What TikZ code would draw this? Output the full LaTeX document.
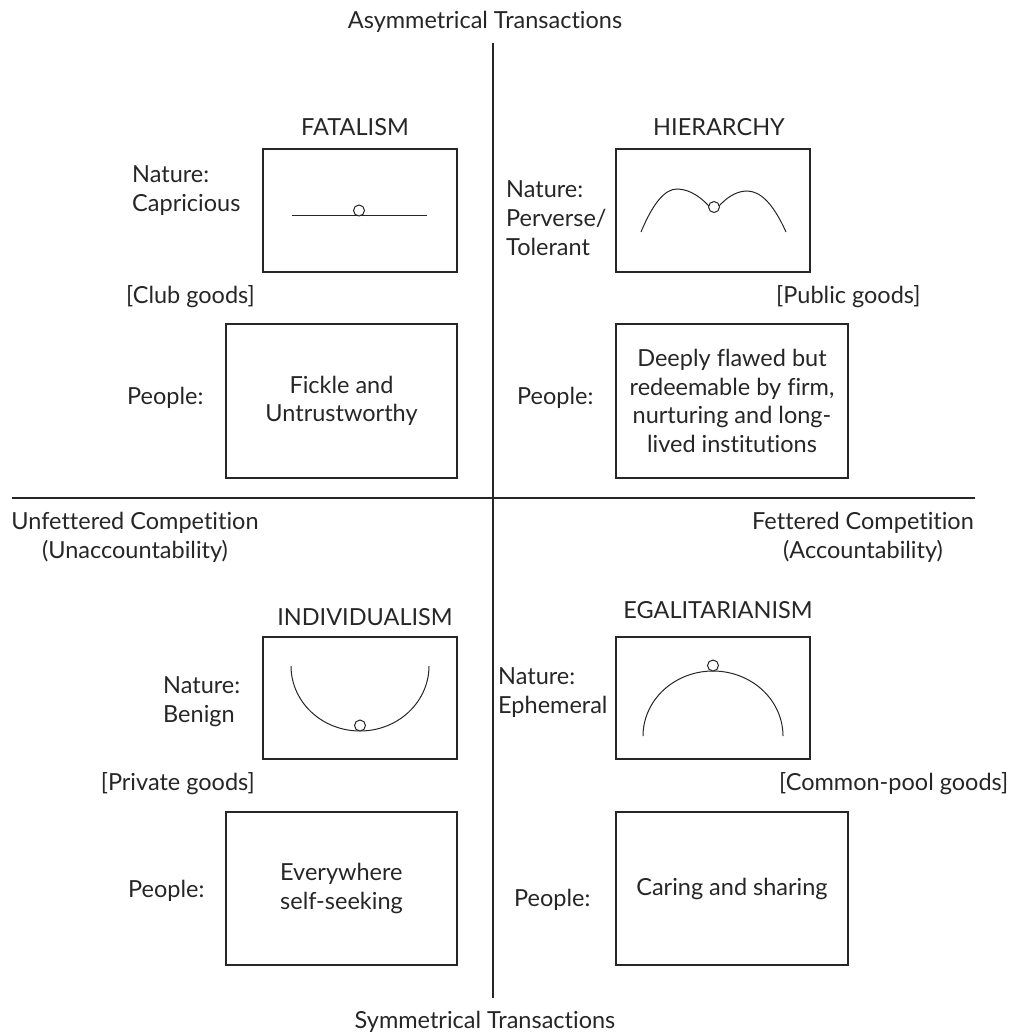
\documentclass[tikz,border=0pt]{standalone}
\usepackage{fontspec}
\setmainfont{Lato}[Ligatures=NoCommon]
\begin{document}
\begin{tikzpicture}[x=1pt,y=-1pt,
  axis/.style={draw=black!85, line width=1.1pt},
  curve/.style={draw=black!85, line width=1pt},
  nbox/.style={draw=black!85, line width=1.1pt, inner sep=0pt, minimum width=194pt, minimum height=123pt},
  pbox/.style={draw=black!85, line width=1.1pt, inner sep=0pt, minimum width=231pt, minimum height=154pt, align=center, text=black!85, font=\fontsize{23.5}{28.5}\selectfont},
  txt/.style={inner sep=0pt, text=black!85, font=\fontsize{23.5}{29}\selectfont},
  ball/.style={draw=black!85, line width=1pt, fill=white, circle, inner sep=0pt, minimum size=11pt}
]
\useasboundingbox (0,0) rectangle (1013,1032);

% axes
\coordinate (vt) at (493,43);
\coordinate (vb) at (493,998);
\coordinate (hl) at (12,498);
\coordinate (hr) at (975,498);
\draw[axis] (vt) -- (vb);
\draw[axis] (hl) -- (hr);

\node[txt] (asym) at (485,22) {Asymmetrical Transactions};
\node[txt] (sym) at (485,1022) {Symmetrical Transactions};
\node[txt, align=center] (unf) at (135,537.5) {Unfettered Competition\\(Unaccountability)};
\node[txt, align=center] (fet) at (863,537.5) {Fettered Competition\\(Accountability)};

% FATALISM
\node[txt] (fatT) at (355,127) {FATALISM};
\node[nbox] (fatN) at (360,210.5) {};
\node[txt, align=left, anchor=west] (fatNl) at (132,190.5) {Nature:\\Capricious};
\coordinate (fl1) at (292,216);
\coordinate (fl2) at (427,216);
\draw[curve] (fl1) -- (fl2);
\node[ball] (fatB) at (359,210.5) {};
\node[txt, anchor=east] (club) at (255,297) {[Club goods]};
\node[pbox] (fatP) at (341.5,401) {Fickle and\\Untrustworthy};
\node[txt, anchor=west] (fatPl) at (127,398) {People:};

% HIERARCHY
\node[txt] (hieT) at (719,127) {HIERARCHY};
\node[nbox] (hieN) at (713,210.5) {};
\node[txt, align=left, anchor=west] (hieNl) at (506,218.5) {Nature:\\Perverse/\\Tolerant};
\draw[curve] (641,232) .. controls (653,203) and (665,189) .. (677,189)
  .. controls (690,189) and (703,198) .. (714,212)
  .. controls (724,199) and (735,191) .. (747,191)
  .. controls (760,191) and (773,203) .. (786,232);
\node[ball] (hieB) at (714,207) {};
\node[txt, anchor=west] (pub) at (776,297) {[Public goods]};
\node[pbox, minimum width=232pt] (hieP) at (732,401) {Deeply flawed but\\redeemable by firm,\\nurturing and long-\\lived institutions};
\node[txt, anchor=west] (hiePl) at (517,398) {People:};

% INDIVIDUALISM
\node[txt] (indT) at (365,617) {INDIVIDUALISM};
\node[nbox, minimum height=122pt] (indN) at (360,698) {};
\node[txt, align=left, anchor=west] (indNl) at (163,701.5) {Nature:\\Benign};
\draw[curve] plot[smooth, domain=180:360, samples=60] ({360+69*cos(\x)},{666-65*sin(\x)});
\node[ball] (indB) at (360,725.5) {};
\node[txt, anchor=east] (priv) at (255,784) {[Private goods]};
\node[pbox, minimum height=153pt, align=left] (indP) at (341.5,888.5) {Everywhere\\self-seeking};
\node[txt, anchor=west] (indPl) at (128,891) {People:};

% EGALITARIANISM
\node[txt] (egaT) at (718,610) {EGALITARIANISM};
\node[nbox, minimum height=122pt] (egaN) at (713,698) {};
\node[txt, align=left, anchor=west] (egaNl) at (498,692.5) {Nature:\\Ephemeral};
\draw[curve] plot[smooth, domain=0:180, samples=60] ({713+70*cos(\x)},{736-65*sin(\x)});
\node[ball] (egaB) at (713,665.5) {};
\node[txt, anchor=west] (cpool) at (779,784) {[Common-pool goods]};
\node[pbox, minimum width=232pt, minimum height=153pt] (egaP) at (732,888.5) {Caring and sharing};
\node[txt, anchor=west] (egaPl) at (514,900) {People:};
\end{tikzpicture}
\end{document}
